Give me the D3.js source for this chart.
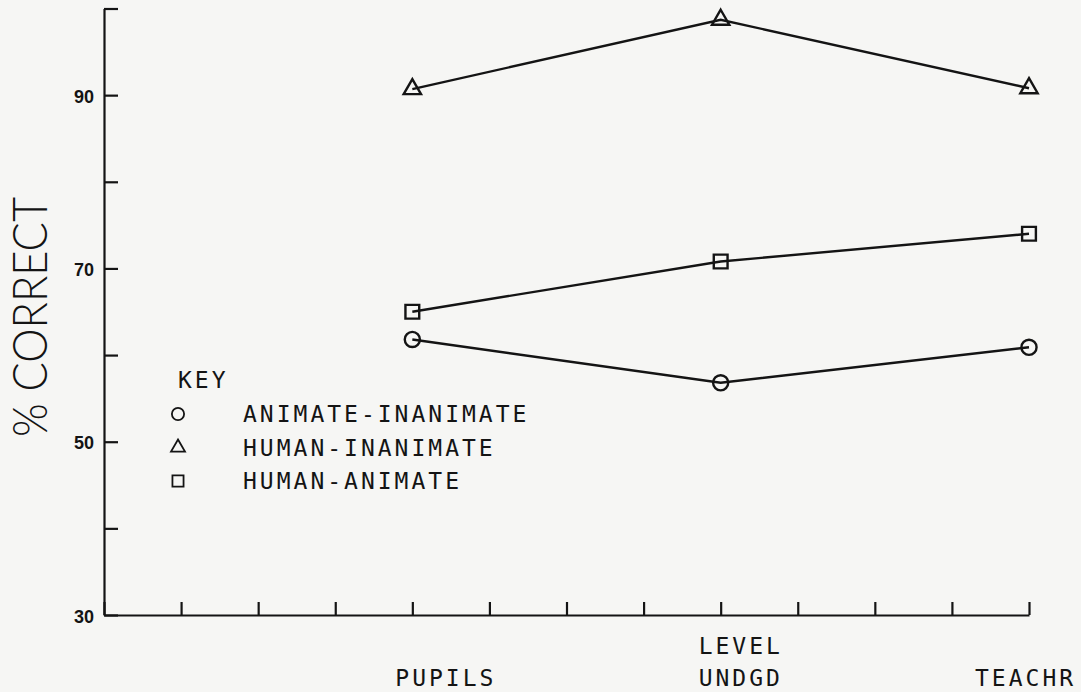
<!DOCTYPE html>
<html>
<head>
<meta charset="utf-8">
<script src="https://cdn.jsdelivr.net/npm/d3@7.9.0/dist/d3.min.js"></script>
<style>
  body { margin: 0; background: #f6f6f4; }
  svg { display: block; }
</style>
</head>
<body>
<svg width="1081" height="692"></svg>
<script>
// values
const levels = ['PUPILS', 'UNDGD', 'TEACHR'];
const levelTicks = [4, 8, 12];
const animateInanimate = [61.8, 56.8, 60.9];
const humanInanimate = [90.7, 98.7, 90.8];
const humanAnimate = [65.0, 70.8, 74.0];
const yTicks = [30, 40, 50, 60, 70, 80, 90, 100];
const yLabelled = [30, 50, 70, 90];
const xTicks = d3.range(0, 13);
const keyNames = ['ANIMATE-INANIMATE', 'HUMAN-INANIMATE', 'HUMAN-ANIMATE'];

const series = [
  { name: keyNames[0], values: animateInanimate, symbol: d3.symbolCircle, size: 180 },
  { name: keyNames[1], values: humanInanimate, symbol: d3.symbolTriangle, size: 130 },
  { name: keyNames[2], values: humanAnimate, symbol: d3.symbolSquare, size: 190 },
];

const ink = '#141414';
const svg = d3.select('svg');

const x = d3.scaleLinear().domain([0, 12]).range([104, 1029]);
const y = d3.scaleLinear().domain([30, 100]).range([615, 8.5]);

// y axis, ticks pointing inward
const yAxis = svg.append('g')
  .attr('transform', `translate(${x(0)},0)`)
  .call(d3.axisLeft(y)
    .tickValues(yTicks)
    .tickSizeInner(-14)
    .tickSizeOuter(0)
    .tickPadding(10)
    .tickFormat(d => (yLabelled.includes(d) ? d : '')));

// x axis, ticks pointing up, no numbers
svg.append('g')
  .attr('transform', `translate(0,${y(30)})`)
  .call(d3.axisBottom(x)
    .tickValues(xTicks)
    .tickSizeInner(-13)
    .tickSizeOuter(0)
    .tickFormat(''));

svg.selectAll('.domain, .tick line')
  .attr('stroke', ink)
  .attr('stroke-width', 2.2);

yAxis.selectAll('text')
  .attr('fill', ink)
  .attr('font-family', '"Liberation Sans", Arial, sans-serif')
  .attr('font-weight', 'bold')
  .attr('font-size', 18)
  .attr('dy', '0.4em');

// series lines
const line = d3.line()
  .x((d, i) => x(levelTicks[i]))
  .y(d => y(d));

svg.selectAll('.series')
  .data(series)
  .join('path')
  .attr('class', 'series')
  .attr('d', d => line(d.values))
  .attr('fill', 'none')
  .attr('stroke', ink)
  .attr('stroke-width', 2.4);

series.forEach(s => {
  svg.selectAll(null)
    .data(s.values)
    .join('path')
    .attr('transform', (d, i) => `translate(${x(levelTicks[i])},${y(d)})`)
    .attr('d', d3.symbol(s.symbol, s.size))
    .attr('fill', 'none')
    .attr('stroke', ink)
    .attr('stroke-width', 2.4);
});

// plotter-style lettering
const plotFont = '"DejaVu Sans Mono", monospace';

svg.append('text')
  .attr('transform', 'translate(47,317) rotate(-90)')
  .attr('text-anchor', 'middle')
  .attr('font-family', 'Lato, sans-serif')
  .attr('font-weight', 300)
  .attr('font-size', 47)
  .attr('textLength', 240)
  .attr('lengthAdjust', 'spacingAndGlyphs')
  .attr('fill', ink)
  .text('% CORRECT');

// level labels under the axis
const labelNudge = [-17, -22, -54];
svg.selectAll('.level')
  .data(levels)
  .join('text')
  .attr('class', 'level')
  .attr('x', (d, i) => x(levelTicks[i]) + labelNudge[i])
  .attr('y', 686)
  .attr('font-family', plotFont)
  .attr('font-size', 23)
  .attr('letter-spacing', 3)
  .attr('fill', ink)
  .text(d => d);

svg.append('text')
  .attr('x', x(8) + labelNudge[1])
  .attr('y', 654)
  .attr('font-family', plotFont)
  .attr('font-size', 23)
  .attr('letter-spacing', 3)
  .attr('fill', ink)
  .text('LEVEL');

// key
const key = svg.append('g');
key.append('text')
  .attr('x', 178)
  .attr('y', 380)
  .attr('dy', '0.36em')
  .attr('font-family', plotFont)
  .attr('font-size', 23)
  .attr('letter-spacing', 3)
  .attr('fill', ink)
  .text('KEY');

const rows = key.selectAll('.row')
  .data(series)
  .join('g')
  .attr('class', 'row')
  .attr('transform', (d, i) => `translate(0,${414 + i * 33.5})`);

rows.append('path')
  .attr('transform', 'translate(178,0)')
  .attr('d', d => d3.symbol(d.symbol, d.size * 0.65)())
  .attr('fill', 'none')
  .attr('stroke', ink)
  .attr('stroke-width', 1.8);

rows.append('text')
  .attr('x', 243)
  .attr('dy', '0.36em')
  .attr('font-family', plotFont)
  .attr('font-size', 23)
  .attr('letter-spacing', 3)
  .attr('fill', ink)
  .text(d => d.name);
</script>
</body>
</html>
